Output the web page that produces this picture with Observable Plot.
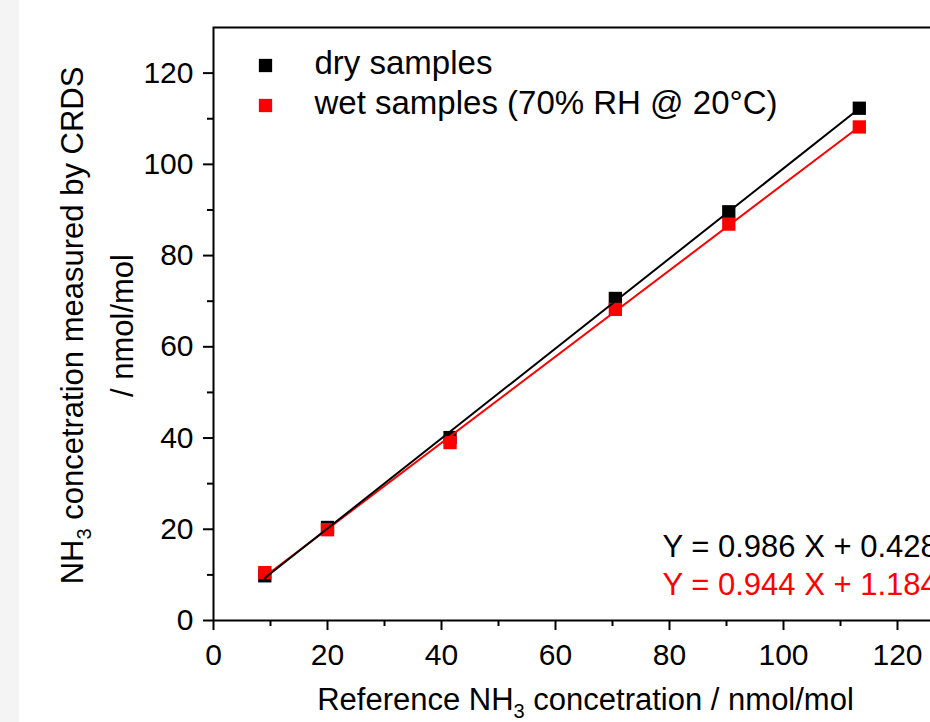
<!DOCTYPE html>
<html><head><meta charset="utf-8">
<script src="https://cdn.jsdelivr.net/npm/d3@7"></script>
<script src="https://cdn.jsdelivr.net/npm/@observablehq/plot@0.6"></script>
<style>
html,body{margin:0;padding:0;overflow:hidden;background:#fff;width:930px;height:722px;}
#strip{position:absolute;left:0;top:0;width:19px;height:722px;background:#f4f4f4;}
#chart{position:absolute;left:0;top:0;}
</style></head><body>
<div id="strip"></div><div id="chart"></div>
<script>
// Data
const refConc     = [9.0, 20.0, 41.5, 70.5, 90.4, 113.3];
const dryMeasured = [9.8, 20.4, 40.1, 70.6, 89.6, 112.3];
const wetMeasured = [10.5, 19.9, 39.0, 68.2, 86.9, 108.2];
const seriesNames  = ["dry samples", "wet samples (70% RH @ 20°C)"];
const seriesColors = ["#000000", "#ff0000"];
const fitLabels    = ["Y = 0.986 X + 0.428", "Y = 0.944 X + 1.184"];
const xMajorTicks = [0, 20, 40, 60, 80, 100, 120];
const xMinorTicks = [10, 30, 50, 70, 90, 110];
const yMajorTicks = [0, 20, 40, 60, 80, 100, 120];
const yMinorTicks = [10, 30, 50, 70, 90, 110];
const xTitle = "Reference NH3 concetration / nmol/mol";
const yTitleLines = ["NH3 concetration measured by CRDS", "/ nmol/mol"];

const dry = refConc.map((x, i) => ({x, y: dryMeasured[i]}));
const wet = refConc.map((x, i) => ({x, y: wetMeasured[i]}));

const font = "'Liberation Sans', Arial, sans-serif";

const marks = [
  Plot.frame({stroke: "#000", strokeWidth: 2}),
  Plot.axisY({ticks: yMajorTicks, tickSize: 10, tickPadding: 10, strokeWidth: 2, fontSize: 30, label: null, tickFormat: d => String(d)}),
  Plot.axisY({ticks: yMinorTicks, tickSize: 6, strokeWidth: 2, label: null, tickFormat: () => ""}),
  Plot.axisX({ticks: xMajorTicks, tickSize: 10, tickPadding: 13, strokeWidth: 2, fontSize: 30, label: null, tickFormat: d => String(d)}),
  Plot.axisX({ticks: xMinorTicks, tickSize: 6, strokeWidth: 2, label: null, tickFormat: () => ""}),
  Plot.dot(dry, {x: "x", y: "y", symbol: "square", r: 7.5, fill: seriesColors[0], stroke: "none"}),
  Plot.dot(wet, {x: "x", y: "y", symbol: "square", r: 7.5, fill: seriesColors[1], stroke: "none"}),
  Plot.linearRegressionY(wet, {x: "x", y: "y", stroke: seriesColors[1], strokeWidth: 2, ci: 0}),
  Plot.linearRegressionY(dry, {x: "x", y: "y", stroke: seriesColors[0], strokeWidth: 2, ci: 0})
];

seriesNames.forEach((name, i) => {
  marks.push(Plot.dot([name], {frameAnchor: "top-left", dx: 52, dy: 38 + 40 * i, symbol: "square", r: 7.5, fill: seriesColors[i], stroke: "none"}));
  marks.push(Plot.text([name], {text: d => d, frameAnchor: "top-left", textAnchor: "start", lineAnchor: "middle", dx: 101, dy: 35.5 + 40 * i, fontSize: 33, fill: "#000"}));
});
fitLabels.forEach((lab, i) => {
  marks.push(Plot.text([lab], {text: d => d, frameAnchor: "bottom-left", textAnchor: "start", lineAnchor: "middle", dx: 449, dy: -73 + 38 * i, fontSize: 31, fill: seriesColors[i]}));
});
marks.push(Plot.text([xTitle], {text: d => d, frameAnchor: "bottom", textAnchor: "middle", lineAnchor: "middle", dx: 1.5, dy: 80, fontSize: 31, fill: "#000"}));
yTitleLines.forEach((line, i) => {
  marks.push(Plot.text([line], {text: d => d, frameAnchor: "left", textAnchor: "middle", lineAnchor: "middle", rotate: -90, dx: -140 + 50 * i, dy: 1.5, fontSize: 31, fill: "#000"}));
});

const svg = Plot.plot({
  width: 960,
  height: 722,
  marginLeft: 213,
  marginRight: 6,
  marginTop: 27,
  marginBottom: 102,
  x: {domain: [0, 130]},
  y: {domain: [0, 130]},
  style: {fontFamily: font, fontSize: "30px", background: "transparent", maxWidth: "none", overflow: "visible", color: "#000"},
  marks
});

// subscript "3" in NH3
d3.select(svg).selectAll("text").each(function() {
  const t = this.textContent;
  if (t.includes("NH3")) {
    const [a, b] = t.split("NH3");
    const sel = d3.select(this);
    sel.text(null);
    sel.append("tspan").text(a + "NH");
    sel.append("tspan").attr("font-size", "20px").attr("dy", "8").text("3");
    sel.append("tspan").attr("dy", "-8").text(b);
  }
});

document.getElementById("chart").appendChild(svg);
</script>
</body></html>
